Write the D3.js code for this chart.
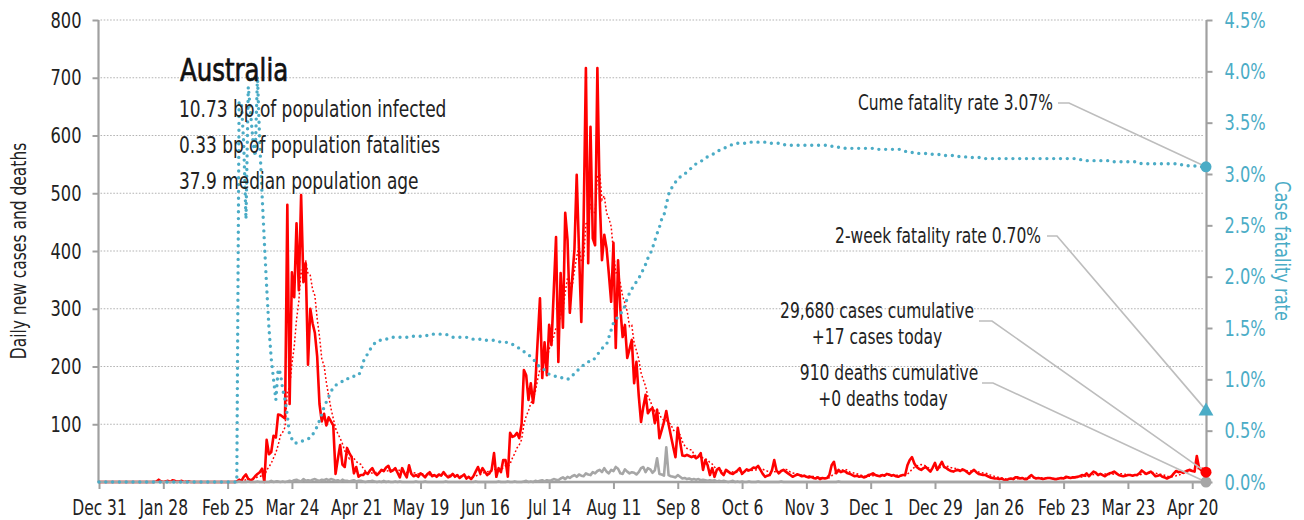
<!DOCTYPE html>
<html>
<head>
<meta charset="utf-8">
<script src="https://cdn.jsdelivr.net/npm/d3@7"></script>
<style>
  body { margin: 0; background: #fff; }
  svg text { font-family: "Liberation Sans Narrow", "Arial Narrow", "DejaVu Sans Condensed", sans-serif; }
</style>
</head>
<body>
<script>
// Daily series, one value per day from Dec 31 2019 (rows of 10 days)
const cases = [
  0,0,0,0,0,0,0,0,0,0,
  0,0,0,0,0,0,0,0,0,0,
  0,0,0,0,0,1,4,1,0,1,
  2,0,3,2,0,1,2,0,0,1,
  0,0,0,0,0,0,0,0,0,0,
  0,0,0,0,0,0,0,0,0,0,
  1,4,2,9,13,5,3,5,10,14,
  17,23,0,73,48,52,80,77,117,116,
  113,110,480,135,363,320,448,332,497,346,
  379,203,300,275,258,217,135,105,118,98,
  112,105,98,14,40,64,30,26,59,50,
  43,15,26,9,12,12,17,14,20,24,
  16,12,16,21,19,25,28,18,20,24,
  16,8,24,15,8,29,14,10,12,9,
  15,12,8,14,17,10,12,9,13,11,
  17,12,8,10,14,9,12,7,10,13,
  6,9,5,10,18,26,15,24,18,12,
  15,22,50,9,24,17,38,38,9,85,
  78,80,85,76,100,194,185,142,171,137,
  171,245,318,180,242,185,272,237,330,424,
  208,362,267,466,419,293,350,402,532,400,
  277,450,717,379,615,422,410,717,493,384,
  428,405,360,312,414,232,384,300,251,272,
  215,230,246,171,208,150,104,130,151,119,
  125,128,102,125,76,90,104,123,100,80,
  61,43,94,70,46,45,47,45,43,45,
  41,44,50,21,38,29,12,24,9,21,
  24,16,12,21,18,15,14,17,20,24,
  14,18,22,20,22,25,24,28,21,14,
  9,11,12,20,38,20,15,19,21,18,
  15,12,9,11,13,12,10,11,9,8,
  9,7,6,8,5,7,6,7,12,29,
  35,15,21,17,19,18,15,14,12,10,
  11,9,10,8,9,12,13,15,12,11,
  10,12,11,14,13,11,12,10,9,11,
  12,12,29,38,43,32,26,23,21,24,
  26,22,18,25,33,21,28,35,26,24,
  21,19,18,20,21,19,22,20,17,14,
  18,21,17,14,13,12,12,10,8,7,
  6,6,5,6,4,3,5,6,5,8,
  8,6,7,5,5,9,12,8,6,7,
  6,5,6,7,7,6,5,5,6,7,
  6,9,8,7,8,8,9,10,12,11,
  15,10,14,18,16,12,14,12,10,13,
  15,16,18,15,12,11,10,11,12,12,
  11,12,12,15,20,17,14,16,18,14,
  10,11,12,9,8,6,8,10,15,19,
  17,18,16,18,20,21,19,18,45,24,
  20,19,17
];

const deaths = [
  0,0,0,0,0,0,0,0,0,0,
  0,0,0,0,0,0,0,0,0,0,
  0,0,0,0,0,0,0,0,0,0,
  0,0,0,0,0,0,0,0,0,0,
  0,0,0,0,0,0,0,0,0,0,
  0,0,0,0,0,0,0,0,0,0,
  0,1,0,0,0,1,0,0,0,1,
  0,0,0,0,0,2,0,1,1,0,
  1,0,1,2,1,3,4,2,1,5,
  2,3,2,4,5,3,2,4,3,5,
  3,5,4,2,3,1,4,2,2,1,
  2,3,1,2,2,1,0,1,1,2,
  1,0,1,0,2,0,1,0,0,1,
  0,1,0,0,0,0,0,0,1,0,
  0,0,1,0,0,0,0,0,0,0,
  0,1,0,0,0,0,0,0,0,0,
  0,0,0,0,1,0,0,0,0,0,
  0,0,0,0,1,0,0,0,1,0,
  0,1,0,0,0,1,2,0,1,0,
  2,1,2,3,1,3,2,3,5,4,
  3,6,8,5,9,7,10,12,9,13,
  11,10,15,13,12,17,15,19,21,17,
  24,18,15,21,19,26,23,15,14,22,
  18,15,17,16,13,17,24,26,17,24,
  22,16,20,41,14,13,11,60,12,10,
  9,8,12,9,6,7,5,6,4,5,
  4,5,3,4,3,2,3,2,3,1,
  2,1,2,1,0,1,2,0,1,0,
  1,0,0,1,0,0,0,1,0,0,
  0,0,0,0,0,0,0,1,0,0,
  0,0,0,0,0,0,0,0,0,0,
  0,0,0,0,0,0,0,0,0,0,
  0,0,1,0,0,0,0,0,0,0,
  0,0,0,0,0,0,0,0,0,0,
  0,0,0,0,0,0,0,0,0,0,
  0,0,0,0,0,0,0,0,0,0,
  0,0,0,0,0,0,0,0,0,0,
  0,0,0,0,0,0,0,0,0,0,
  0,0,0,0,0,0,0,0,0,0,
  0,0,0,0,0,0,0,0,0,0,
  0,0,0,0,0,0,0,0,0,0,
  0,0,0,0,0,0,0,0,0,0,
  0,0,0,0,0,0,0,0,0,0,
  0,0,0,0,0,0,0,0,0,0,
  0,0,0,0,0,0,0,0,0,0,
  0,0,0,0,0,0,0,0,0,0,
  0,0,0,0,0,0,0,0,0,0,
  0,0,0,0,0,0,0,0,0,0,
  0,0,0
];

// cumulative case fatality rate, in percent
const cfr = [
  0,0,0,0,0,0,0,0,0,0,
  0,0,0,0,0,0,0,0,0,0,
  0,0,0,0,0,0,0,0,0,0,
  0,0,0,0,0,0,0,0,0,0,
  0,0,0,0,0,0,0,0,0,0,
  0,0,0,0,0,0,0,0,0,0,
  0,3.7,3.7,3.3,2.56,3.85,3.6,3.33,3.17,3.95,
  3.3,2.8,2.34,1.9,1.5,1.2,1.0,0.8,1.1,1.06,
  0.9,0.8,0.65,0.45,0.42,0.38,0.38,0.39,0.4,0.4,
  0.41,0.42,0.43,0.46,0.5,0.54,0.6,0.66,0.73,0.78,
  0.83,0.88,0.92,0.94,0.96,0.97,0.98,1.0,1.0,1.02,
  1.02,1.03,1.03,1.04,1.08,1.17,1.21,1.25,1.29,1.32,
  1.35,1.37,1.38,1.38,1.39,1.39,1.40,1.40,1.41,1.41,
  1.41,1.41,1.41,1.41,1.41,1.41,1.41,1.42,1.42,1.42,
  1.42,1.42,1.42,1.43,1.44,1.44,1.44,1.44,1.44,1.44,
  1.44,1.44,1.43,1.42,1.41,1.41,1.41,1.41,1.41,1.41,
  1.41,1.40,1.40,1.39,1.39,1.39,1.39,1.38,1.38,1.38,
  1.38,1.38,1.38,1.37,1.37,1.36,1.36,1.36,1.36,1.35,
  1.34,1.33,1.32,1.30,1.28,1.27,1.26,1.24,1.22,1.20,
  1.17,1.14,1.12,1.11,1.09,1.06,1.05,1.04,1.03,1.03,
  1.03,1.02,1.01,1.00,1.00,1.01,1.03,1.06,1.08,1.10,
  1.12,1.14,1.16,1.17,1.18,1.18,1.21,1.24,1.27,1.30,
  1.32,1.34,1.41,1.48,1.55,1.58,1.61,1.64,1.66,1.72,
  1.79,1.84,1.88,1.92,1.95,1.98,2.03,2.07,2.12,2.18,
  2.22,2.28,2.35,2.42,2.48,2.56,2.60,2.70,2.80,2.85,
  2.89,2.92,2.95,2.97,2.99,3.00,3.02,3.04,3.06,3.08,
  3.10,3.11,3.12,3.14,3.15,3.17,3.18,3.19,3.20,3.21,
  3.23,3.24,3.25,3.26,3.27,3.28,3.29,3.29,3.30,3.30,
  3.30,3.30,3.30,3.31,3.31,3.31,3.31,3.31,3.31,3.31,
  3.31,3.30,3.30,3.30,3.30,3.30,3.30,3.30,3.29,3.28,
  3.28,3.28,3.28,3.28,3.28,3.28,3.28,3.28,3.28,3.28,
  3.28,3.28,3.28,3.28,3.28,3.28,3.28,3.28,3.27,3.27,
  3.27,3.27,3.26,3.26,3.26,3.25,3.25,3.25,3.25,3.25,
  3.25,3.25,3.25,3.25,3.25,3.25,3.25,3.25,3.25,3.24,
  3.24,3.24,3.24,3.24,3.24,3.24,3.24,3.24,3.24,3.24,
  3.23,3.22,3.22,3.21,3.21,3.21,3.21,3.20,3.20,3.20,
  3.20,3.20,3.20,3.19,3.19,3.19,3.19,3.19,3.18,3.18,
  3.18,3.18,3.18,3.17,3.17,3.17,3.17,3.17,3.16,3.16,
  3.16,3.16,3.16,3.16,3.16,3.15,3.15,3.15,3.15,3.15,
  3.15,3.15,3.15,3.15,3.15,3.15,3.15,3.15,3.15,3.15,
  3.15,3.15,3.15,3.15,3.15,3.15,3.15,3.15,3.15,3.15,
  3.15,3.15,3.15,3.15,3.15,3.15,3.15,3.15,3.15,3.15,
  3.15,3.15,3.15,3.15,3.15,3.15,3.15,3.14,3.14,3.14,
  3.13,3.13,3.13,3.13,3.13,3.13,3.13,3.13,3.13,3.13,
  3.13,3.12,3.12,3.12,3.12,3.12,3.12,3.12,3.12,3.12,
  3.12,3.12,3.11,3.11,3.10,3.10,3.10,3.10,3.10,3.10,
  3.10,3.10,3.10,3.10,3.10,3.10,3.10,3.10,3.10,3.10,
  3.10,3.09,3.09,3.09,3.08,3.08,3.08,3.08,3.07,3.07,
  3.07,3.07,3.07
];

const startDate = new Date(2019, 11, 31);
const leftTicks = [100, 200, 300, 400, 500, 600, 700, 800];
const rightTicks = [0, 0.5, 1.0, 1.5, 2.0, 2.5, 3.0, 3.5, 4.0, 4.5];
const tickEvery = 28; // days between x ticks

const country = "Australia";
const infoLines = [
  "10.73 bp of population infected",
  "0.33 bp of population fatalities",
  "37.9 median population age"
];
const twoWeekCfr = 0.70;
const cumeCases = "29,680", todayCases = 17;
const cumeDeaths = "910", todayDeaths = 0;

const teal = "#4bacc6", red = "#ff0000", grey = "#a6a6a6", axisGrey = "#a0a0a0";

const width = 1304, height = 520;
const margin = { top: 20, right: 98, bottom: 38, left: 99 };

const dates = cases.map((d, i) => d3.timeDay.offset(startDate, i));
const nDays = cases.length;

// 7 day trailing average of cases
const avg7 = cases.map((d, i) => i < 6 ? null : d3.mean(cases.slice(i - 6, i + 1)));

const svg = d3.select("body").append("svg")
  .attr("width", width)
  .attr("height", height);

const x = d3.scaleTime()
  .domain([dates[0], dates[nDays - 1]])
  .range([margin.left, width - margin.right]);

const y = d3.scaleLinear()
  .domain([0, 800])
  .range([height - margin.bottom, margin.top]);

const yR = d3.scaleLinear()
  .domain([0, 4.5])
  .range([height - margin.bottom, margin.top]);

const x0 = margin.left - 0.5, x1 = width - margin.right + 0.5;

// dotted grid
svg.append("g")
  .selectAll("line")
  .data(leftTicks)
  .enter()
  .append("line")
  .attr("x1", x0 + 2)
  .attr("x2", x1 - 2)
  .attr("y1", d => y(d))
  .attr("y2", d => y(d))
  .attr("stroke", "#b4b4b4")
  .attr("stroke-width", 1.2)
  .attr("stroke-dasharray", "1.6,1.6");

// left axis
let yAxis = svg.append("g")
  .attr("transform", `translate(${x0}, 0)`)
  .call(d3.axisLeft(y).tickValues(leftTicks).tickSize(6).tickPadding(11));
yAxis.select(".domain").remove();
yAxis.selectAll("line").attr("stroke", axisGrey).attr("stroke-width", 2);
yAxis.selectAll("text").style("font-size", "22px").attr("fill", "#222");
svg.append("line")
  .attr("x1", x0).attr("x2", x0)
  .attr("y1", y(800)).attr("y2", y(0))
  .attr("stroke", axisGrey).attr("stroke-width", 2.2);

// right axis
let yAxisR = svg.append("g")
  .attr("transform", `translate(${x1}, 0)`)
  .call(d3.axisRight(yR).tickValues(rightTicks).tickSize(6).tickPadding(12)
    .tickFormat(d => d.toFixed(1) + "%"));
yAxisR.select(".domain").remove();
yAxisR.selectAll("line").attr("stroke", axisGrey).attr("stroke-width", 2);
yAxisR.selectAll("text").style("font-size", "22px").attr("fill", teal);
svg.append("line")
  .attr("x1", x1).attr("x2", x1)
  .attr("y1", yR(4.5)).attr("y2", yR(0))
  .attr("stroke", axisGrey).attr("stroke-width", 2.2);

// bottom axis
const xTickDates = d3.range(0, nDays, tickEvery).map(i => dates[i]);
let xAxis = svg.append("g")
  .attr("transform", `translate(0, ${y(0)})`)
  .call(d3.axisBottom(x).tickValues(xTickDates).tickSize(7).tickPadding(11)
    .tickFormat(d3.timeFormat("%b %-d")));
xAxis.select(".domain").remove();
xAxis.selectAll("line").attr("stroke", axisGrey).attr("stroke-width", 2);
xAxis.selectAll("text").style("font-size", "21px").attr("fill", "#222");
svg.append("line")
  .attr("x1", x0 - 1).attr("x2", x1 + 1)
  .attr("y1", y(0)).attr("y2", y(0))
  .attr("stroke", axisGrey).attr("stroke-width", 2.6);

// axis titles
svg.append("text")
  .attr("transform", `translate(19, ${(y(0) + y(800)) / 2}) rotate(-90)`)
  .attr("text-anchor", "middle")
  .attr("dominant-baseline", "central")
  .style("font-size", "21px")
  .attr("fill", "#222")
  .text("Daily new cases and deaths");

svg.append("text")
  .attr("transform", `translate(1282, ${(y(0) + y(800)) / 2}) rotate(90)`)
  .attr("text-anchor", "middle")
  .attr("dominant-baseline", "central")
  .style("font-size", "22px")
  .attr("fill", teal)
  .text("Case fatality rate");

// lines
const lineCases = d3.line().x((d, i) => x(dates[i])).y(d => y(d));
const lineAvg = d3.line().defined(d => d !== null).x((d, i) => x(dates[i])).y(d => y(d));
const lineCfr = d3.line().x((d, i) => x(dates[i])).y(d => yR(d));

svg.append("path")
  .datum(cases)
  .attr("d", lineCases)
  .attr("fill", "none")
  .attr("stroke", red)
  .attr("stroke-width", 2.6)
  .attr("stroke-linejoin", "round");

svg.append("path")
  .datum(avg7)
  .attr("d", lineAvg)
  .attr("fill", "none")
  .attr("stroke", red)
  .attr("stroke-width", 1.5)
  .attr("stroke-dasharray", "1.8,2.2");

svg.append("path")
  .datum(deaths)
  .attr("d", lineCases)
  .attr("fill", "none")
  .attr("stroke", grey)
  .attr("stroke-width", 2.6)
  .attr("stroke-linejoin", "round");

svg.append("path")
  .datum(cfr)
  .attr("d", lineCfr)
  .attr("fill", "none")
  .attr("stroke", teal)
  .attr("stroke-width", 3.4)
  .attr("stroke-linecap", "round")
  .attr("stroke-dasharray", "0,6.8");

// title block
svg.append("text")
  .attr("class", "title")
  .attr("x", 180).attr("y", 81)
  .style("font-size", "32px")
  .attr("fill", "#111")
  .attr("stroke", "#111")
  .attr("stroke-width", 0.7)
  .text(country);

svg.selectAll(".info")
  .data(infoLines)
  .enter()
  .append("text")
  .attr("class", "info")
  .attr("x", 179)
  .attr("y", (d, i) => 117 + i * 36)
  .style("font-size", "23px")
  .attr("fill", "#222")
  .text(d => d);

// end markers and callouts
const last = nDays - 1;
const ex = x(dates[last]);
const callGrey = "#bdbdbd";

function callout(pts) {
  svg.append("path")
    .attr("d", d3.line()(pts))
    .attr("fill", "none")
    .attr("stroke", callGrey)
    .attr("stroke-width", 1.6);
}

callout([[1058, 103], [1069, 103], [ex, yR(cfr[last])]]);
callout([[1047, 236], [1057, 236], [ex, yR(twoWeekCfr)]]);
callout([[979, 321], [992, 321], [ex, y(cases[last])]]);
callout([[982, 383], [993, 383], [ex, y(deaths[last])]]);

function label(txt, lx, ly, anchor) {
  svg.append("text")
    .attr("x", lx).attr("y", ly)
    .attr("text-anchor", anchor)
    .style("font-size", "21px")
    .attr("fill", "#222")
    .text(txt);
}

label(`Cume fatality rate ${cfr[last].toFixed(2)}%`, 1053, 110, "end");
label(`2-week fatality rate ${twoWeekCfr.toFixed(2)}%`, 1041, 243, "end");
label(`${cumeCases} cases cumulative`, 877, 318, "middle");
label(`+${todayCases} cases today`, 877, 344, "middle");
label(`${cumeDeaths} deaths cumulative`, 889, 380, "middle");
label(`+${todayDeaths} deaths today`, 883, 406, "middle");

svg.append("circle")
  .attr("cx", ex).attr("cy", y(deaths[last])).attr("r", 5.5)
  .attr("fill", grey);
svg.append("circle")
  .attr("cx", ex).attr("cy", y(cases[last])).attr("r", 5.5)
  .attr("fill", red);
svg.append("circle")
  .attr("cx", ex).attr("cy", yR(cfr[last])).attr("r", 5.5)
  .attr("fill", teal);
svg.append("path")
  .attr("d", d3.symbol().type(d3.symbolTriangle).size(95)())
  .attr("transform", `translate(${ex}, ${yR(twoWeekCfr) + 1})`)
  .attr("fill", teal);

// the reference uses a condensed face; squeeze the available font to match its widths
svg.selectAll("text").each(function() {
  const squeeze = this.getAttribute("class") === "title" ? 0.85 : 0.82;
  const w = this.getComputedTextLength();
  d3.select(this)
    .attr("textLength", (w * squeeze).toFixed(1))
    .attr("lengthAdjust", "spacingAndGlyphs");
});
</script>
</body>
</html>
